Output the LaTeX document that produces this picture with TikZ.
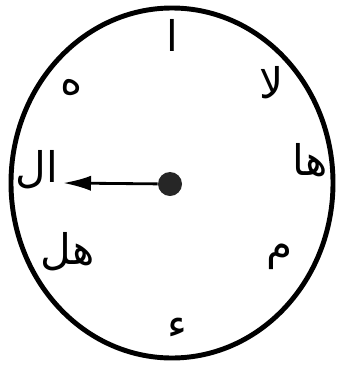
\documentclass[tikz,border=0pt]{standalone}
\usepackage{fontspec}
\newfontfamily\arabicfont[Script=Arabic]{DejaVu Sans}
\TeXXeTstate=1
\usetikzlibrary{arrows.meta}

\begin{document}
\begin{tikzpicture}[x=0.025cm, y=-0.025cm, >={Latex[length=7mm,width=3.8mm]}]
  \tikzset{letter/.style={font=\arabicfont\fontsize{30}{30}\selectfont, inner sep=0pt}}
  \useasboundingbox (0,0) rectangle (339,369);
  % ---------- the dial ----------
  \draw[line width=3.5pt] (172,183) ellipse [x radius=161, y radius=175];
  % ---------- letters round the dial ----------
  \foreach \nm/\x/\y/\txt in {alif/172/35/ا, lamalif/272/83/لا, ha/310/160/ها, mim/280/257/م,
      hamza/177/328/ء, hal/68/252/هل, al/37/170/ال, he/72/88/ه}
    \node[letter] (\nm) at (\x,\y) {\beginR\txt\endR};
  % ---------- the hand ----------
  \node[circle, fill=black!85, inner sep=0pt, minimum size=0.6cm] (hub) at (170,184) {};
  \coordinate (tip) at (63,183);
  \draw[->, line width=2pt] (hub) -- (tip);
\end{tikzpicture}
\end{document}
